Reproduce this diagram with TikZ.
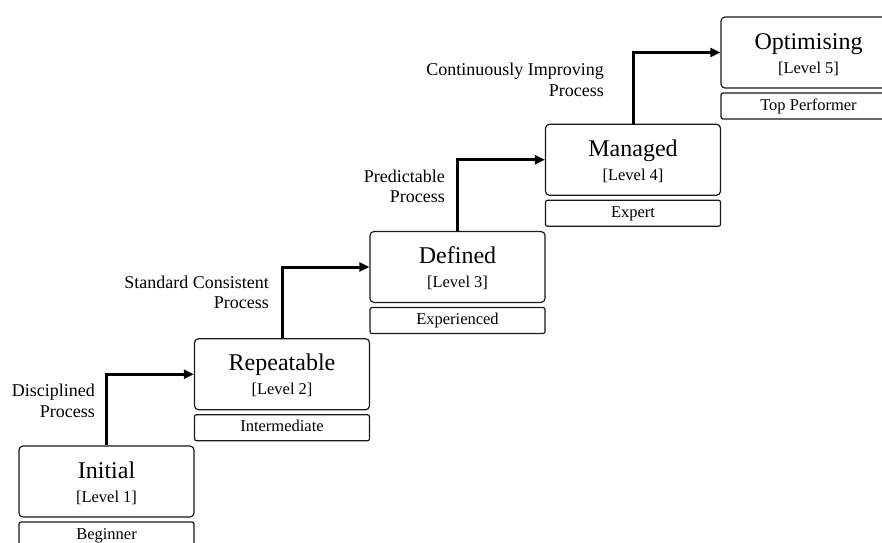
\documentclass[tikz,border=0pt]{standalone}
\usepackage{fontspec}
\setmainfont{Liberation Serif}
\usetikzlibrary{arrows.meta,calc}
\begin{document}
\begin{tikzpicture}[x=1pt,y=-1pt,
  lvlbox/.style={draw=black!90, line width=1.2pt, rounded corners=4pt, minimum width=175pt, minimum height=71pt, inner sep=0pt},
  subbox/.style={draw=black!90, line width=1.2pt, rounded corners=2pt, minimum width=175pt, minimum height=26pt, inner sep=0pt, font=\fontsize{16.5}{18}\selectfont, text height=11.5pt, text depth=3.5pt},
  ttl/.style={anchor=base, inner sep=0pt, font=\fontsize{24}{28}\selectfont},
  lvl/.style={anchor=base, inner sep=0pt, font=\fontsize{16.5}{18}\selectfont},
  lbl/.style={anchor=east, align=right, inner sep=0pt, font=\fontsize{18}{20.5}\selectfont},
  stepline/.style={line width=3pt, -{Triangle[length=10pt,width=9pt]}}
]
\useasboundingbox (0,0) rectangle (882,542);
\clip (0,0) rectangle (882,542);

% level 1
\node[lvlbox] (b1) at (106.5,481.5) {};
\node[ttl] (t1) at (106.5,478) {Initial};
\node[lvl] (l1) at (106.5,502) {[Level 1]};
\node[subbox] (s1) at (106.5,535) {Beginner};

% level 2
\node[lvlbox] (b2) at (282,374.25) {};
\node[ttl] (t2) at (282,370.75) {Repeatable};
\node[lvl] (l2) at (282,394.75) {[Level 2]};
\node[subbox] (s2) at (282,427.75) {Intermediate};

% level 3
\node[lvlbox] (b3) at (457.5,267) {};
\node[ttl] (t3) at (457.5,263.5) {Defined};
\node[lvl] (l3) at (457.5,287.5) {[Level 3]};
\node[subbox] (s3) at (457.5,320.5) {Experienced};

% level 4
\node[lvlbox] (b4) at (633,159.75) {};
\node[ttl] (t4) at (633,156.25) {Managed};
\node[lvl] (l4) at (633,180.25) {[Level 4]};
\node[subbox] (s4) at (633,213.25) {Expert};

% level 5
\node[lvlbox] (b5) at (808.5,52.5) {};
\node[ttl] (t5) at (808.5,49) {Optimising};
\node[lvl] (l5) at (808.5,73) {[Level 5]};
\node[subbox] (s5) at (808.5,106) {Top Performer};

% connectors
\draw[stepline] (b1.north) |- (b2.west);
\draw[stepline] (b2.north) |- (b3.west);
\draw[stepline] (b3.north) |- (b4.west);
\draw[stepline] (b4.north) |- (b5.west);

% labels
\node[lbl] (p1) at (95,401) {Disciplined\\Process};
\node[lbl] (p2) at (269,292.5) {Standard Consistent\\Process};
\node[lbl] (p3) at (445,186.5) {Predictable\\Process};
\node[lbl] (p4) at (604,80) {Continuously Improving\\Process};
\end{tikzpicture}
\end{document}
